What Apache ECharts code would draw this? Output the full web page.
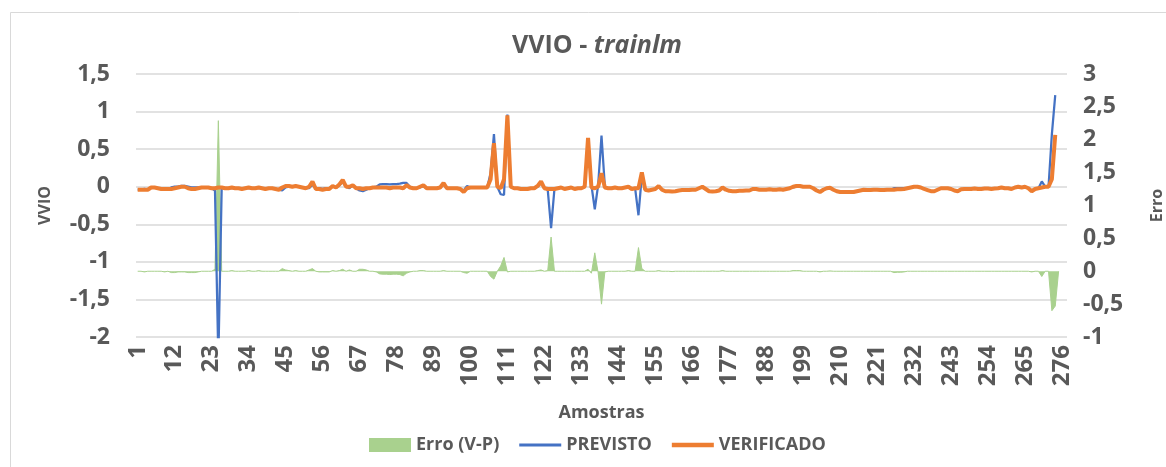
<!DOCTYPE html>
<html>
<head>
<meta charset="utf-8">
<script src="https://cdn.jsdelivr.net/npm/echarts@6/dist/echarts.min.js"></script>
<style>
  html, body { margin: 0; padding: 0; background: #ffffff; }
  #chart { width: 1166px; height: 467px; }
</style>
</head>
<body>
<div id="chart"></div>
<script>
// Category count on the axis (Excel range includes a few blank rows)
const categoryCount = 277;
const categories = [];
for (let i = 1; i <= categoryCount; i++) categories.push(String(i));

// VERIFICADO (observed), samples 1..274
const verificado = [
  -0.04,-0.04,-0.04,-0.04,-0.01,-0.01,-0.02,-0.03,-0.03,-0.03,
  -0.03,-0.02,-0.01,0.00,0.00,-0.02,-0.03,-0.03,-0.02,-0.01,
  -0.01,-0.01,-0.02,-0.02,-0.01,-0.01,-0.02,-0.02,-0.01,-0.02,
  -0.02,-0.03,-0.02,-0.01,-0.02,-0.02,-0.01,-0.02,-0.03,-0.02,
  -0.02,-0.03,-0.04,-0.01,0.01,0.01,0.00,0.01,0.00,-0.01,
  -0.02,0.00,0.07,-0.03,-0.03,-0.04,-0.03,-0.03,0.01,-0.01,
  0.03,0.09,0.00,0.00,0.02,-0.02,-0.02,-0.03,-0.02,-0.02,
  -0.01,-0.01,-0.01,-0.01,-0.01,-0.02,-0.01,-0.01,-0.01,-0.02,
  0.02,-0.01,-0.02,-0.02,0.00,0.02,-0.02,-0.02,-0.02,-0.02,
  -0.01,0.05,-0.02,-0.02,-0.02,-0.02,-0.03,-0.07,-0.02,-0.01,
  -0.01,-0.01,-0.01,-0.01,-0.01,0.10,0.58,0.00,-0.02,0.10,
  0.95,0.00,-0.02,-0.02,-0.03,-0.03,-0.03,-0.02,-0.02,0.01,
  0.07,-0.02,-0.03,-0.03,-0.03,-0.02,-0.01,-0.03,-0.02,-0.01,
  -0.03,-0.02,-0.02,0.00,0.65,-0.01,-0.02,0.00,0.18,-0.01,
  -0.02,-0.02,-0.01,-0.02,-0.02,-0.01,0.00,-0.03,-0.02,-0.02,
  0.19,-0.04,-0.05,-0.04,-0.03,0.01,-0.04,-0.06,-0.06,-0.065,
  -0.06,-0.05,-0.045,-0.045,-0.045,-0.04,-0.04,-0.02,0.00,-0.03,
  -0.06,-0.065,-0.06,-0.05,-0.01,-0.04,-0.055,-0.06,-0.06,-0.055,
  -0.055,-0.05,-0.05,-0.03,-0.03,-0.04,-0.04,-0.04,-0.035,-0.04,
  -0.04,-0.035,-0.04,-0.03,-0.02,0.00,0.01,0.01,0.00,0.00,
  0.00,-0.02,-0.05,-0.07,-0.04,-0.02,-0.015,-0.04,-0.06,-0.07,
  -0.07,-0.07,-0.07,-0.07,-0.06,-0.05,-0.04,-0.045,-0.045,-0.04,
  -0.04,-0.045,-0.045,-0.04,-0.04,-0.04,-0.035,-0.035,-0.03,-0.02,
  -0.01,0.00,0.00,-0.01,-0.03,-0.045,-0.06,-0.06,-0.04,-0.02,
  -0.02,-0.02,-0.03,-0.05,-0.06,-0.035,-0.03,-0.03,-0.03,-0.025,
  -0.03,-0.03,-0.025,-0.025,-0.03,-0.025,-0.02,-0.01,-0.02,-0.02,
  -0.03,-0.01,0.00,-0.01,0.00,-0.02,-0.06,-0.03,-0.02,-0.01,
  0.00,0.00,0.10,0.69
];

// PREVISTO (predicted), samples 1..274
const previsto = [
  -0.04,-0.04,-0.03,-0.04,-0.01,-0.01,-0.02,-0.03,-0.02,-0.03,
  -0.01,0.00,0.00,0.01,0.01,0.00,-0.01,-0.01,-0.01,-0.01,
  -0.01,-0.01,-0.02,-0.05,-2.30,-0.01,-0.02,-0.02,-0.02,-0.02,
  -0.02,-0.03,-0.02,-0.02,-0.02,-0.02,-0.02,-0.02,-0.03,-0.02,
  -0.02,-0.03,-0.04,-0.05,-0.01,0.00,0.00,0.00,0.00,-0.01,
  -0.02,-0.02,0.03,-0.03,-0.02,-0.03,-0.02,-0.02,0.00,-0.01,
  0.02,0.06,0.00,-0.02,0.02,-0.02,-0.05,-0.06,-0.04,-0.02,
  -0.01,0.00,0.03,0.035,0.035,0.03,0.035,0.035,0.04,0.05,
  0.05,0.00,-0.02,-0.02,-0.01,0.01,-0.02,-0.02,-0.02,-0.02,
  -0.01,0.04,-0.02,-0.02,-0.02,-0.02,-0.03,-0.05,0.01,-0.01,
  -0.01,-0.01,-0.01,-0.01,-0.01,0.18,0.70,0.00,-0.10,-0.11,
  0.96,0.00,-0.02,-0.02,-0.03,-0.03,-0.03,-0.02,-0.02,0.00,
  0.05,-0.02,-0.04,-0.55,-0.03,-0.02,-0.01,-0.03,-0.02,-0.01,
  -0.03,-0.02,-0.02,0.00,0.62,0.02,-0.30,0.02,0.68,0.00,
  -0.02,-0.02,-0.01,-0.02,-0.02,-0.01,-0.01,-0.03,-0.02,-0.38,
  0.15,-0.04,-0.05,-0.04,-0.03,0.00,-0.04,-0.06,-0.06,-0.06,
  -0.06,-0.05,-0.045,-0.045,-0.045,-0.04,-0.04,-0.02,0.00,-0.03,
  -0.06,-0.065,-0.06,-0.05,-0.02,-0.04,-0.055,-0.06,-0.06,-0.055,
  -0.055,-0.05,-0.05,-0.03,-0.03,-0.04,-0.04,-0.04,-0.035,-0.04,
  -0.04,-0.035,-0.04,-0.03,-0.02,-0.01,0.00,0.00,0.00,0.00,
  0.00,-0.02,-0.05,-0.06,-0.04,-0.02,-0.02,-0.04,-0.06,-0.07,
  -0.07,-0.07,-0.07,-0.07,-0.06,-0.05,-0.04,-0.045,-0.045,-0.04,
  -0.04,-0.045,-0.045,-0.04,-0.04,-0.02,-0.02,-0.02,-0.02,-0.02,
  -0.01,0.00,0.00,-0.01,-0.03,-0.045,-0.06,-0.06,-0.04,-0.02,
  -0.02,-0.02,-0.03,-0.05,-0.06,-0.035,-0.03,-0.03,-0.03,-0.025,
  -0.03,-0.03,-0.025,-0.025,-0.03,-0.025,-0.02,-0.01,-0.02,-0.02,
  -0.03,-0.01,0.00,-0.01,0.00,-0.02,-0.05,-0.03,-0.02,0.07,
  0.00,0.00,0.70,1.22
];

// Erro (V-P): difference of the two series; the first blank row counts as 0
const erro = verificado.map((v, i) => Math.round((v - previsto[i]) * 1000) / 1000);
erro.push(0);

const leftTicks = { min: -2, max: 1.5, interval: 0.5 };
const rightTicks = { min: -1, max: 3, interval: 0.5 };

const textColor = '#595959';
const fontFamily = '"Open Sans", "Noto Sans", sans-serif';
const fmt = v => String(v).replace('.', ',');

const chart = echarts.init(document.getElementById('chart'), null, { renderer: 'canvas' });
chart.setOption({
  backgroundColor: '#ffffff',
  animation: false,
  textStyle: { fontFamily: fontFamily },
  graphic: [{
    type: 'rect', silent: true,
    shape: { x: 10.5, y: 12.5, width: 1170, height: 470 },
    style: { fill: 'none', stroke: '#d9d9d9', lineWidth: 1 }
  }],
  title: {
    text: '{a|VVIO - }{b|trainlm}',
    left: 592, top: 28, textAlign: 'center',
    textStyle: {
      rich: {
        a: { fontSize: 25, fontWeight: 'bold', color: textColor, fontFamily: fontFamily },
        b: { fontSize: 25, fontWeight: 'bold', fontStyle: 'italic', color: textColor, fontFamily: fontFamily }
      }
    }
  },
  legend: {
    top: 431, left: 364,
    itemWidth: 42, itemHeight: 14, itemGap: 20,
    symbolKeepAspect: true,
    textStyle: { fontSize: 18, fontWeight: 'bold', color: textColor, fontFamily: fontFamily },
    data: [
      { name: 'Erro (V-P)', icon: 'rect' },
      { name: 'PREVISTO', icon: 'path://M0,0H100V7H0Z' },
      { name: 'VERIFICADO', icon: 'path://M0,0H100V11H0Z' }
    ]
  },
  grid: { left: 136, right: 99, top: 74, bottom: 130, containLabel: false, outerBoundsMode: 'none' },
  xAxis: {
    type: 'category',
    data: categories,
    boundaryGap: true,
    name: 'Amostras',
    nameLocation: 'middle',
    nameGap: 67,
    nameTextStyle: { fontSize: 18, fontWeight: 'bold', color: textColor },
    axisLine: { show: false },
    axisTick: { show: false },
    axisLabel: {
      interval: 10, rotate: 90, margin: 8,
      fontSize: 24, fontWeight: 'bold', color: textColor
    },
    splitLine: { show: false }
  },
  yAxis: [{
    type: 'value',
    min: leftTicks.min, max: leftTicks.max, interval: leftTicks.interval,
    name: 'VVIO', nameLocation: 'middle', nameGap: 83, nameRotate: 90,
    nameTextStyle: { fontSize: 16, fontWeight: 'bold', color: textColor },
    axisLine: { show: false }, axisTick: { show: false },
    axisLabel: { formatter: fmt, fontSize: 23, fontWeight: 'bold', color: textColor, margin: 26 },
    splitLine: { lineStyle: { color: '#d9d9d9', width: 1.5 } }
  }, {
    type: 'value',
    min: rightTicks.min, max: rightTicks.max, interval: rightTicks.interval,
    name: 'Erro', nameLocation: 'middle', nameGap: 82, nameRotate: 90,
    nameTextStyle: { fontSize: 16, fontWeight: 'bold', color: textColor },
    axisLine: { show: false }, axisTick: { show: false },
    axisLabel: { formatter: fmt, fontSize: 23, fontWeight: 'bold', color: textColor, margin: 16 },
    splitLine: { show: false }
  }],
  series: [{
    name: 'Erro (V-P)',
    type: 'line',
    yAxisIndex: 1,
    data: erro,
    showSymbol: false, symbol: 'none',
    lineStyle: { width: 1, color: '#a9d18e' },
    itemStyle: { color: '#a9d18e' },
    areaStyle: { color: '#a9d18e', opacity: 1 },
    z: 1
  }, {
    name: 'PREVISTO',
    type: 'line',
    yAxisIndex: 0,
    data: previsto,
    showSymbol: false, symbol: 'none',
    lineStyle: { width: 2.25, color: '#4472c4' },
    itemStyle: { color: '#4472c4' },
    clip: true,
    z: 2
  }, {
    name: 'VERIFICADO',
    type: 'line',
    yAxisIndex: 0,
    data: verificado,
    showSymbol: false, symbol: 'none',
    lineStyle: { width: 4, color: '#ed7d31' },
    itemStyle: { color: '#ed7d31' },
    clip: true,
    z: 3
  }]
});
</script>
</body>
</html>
